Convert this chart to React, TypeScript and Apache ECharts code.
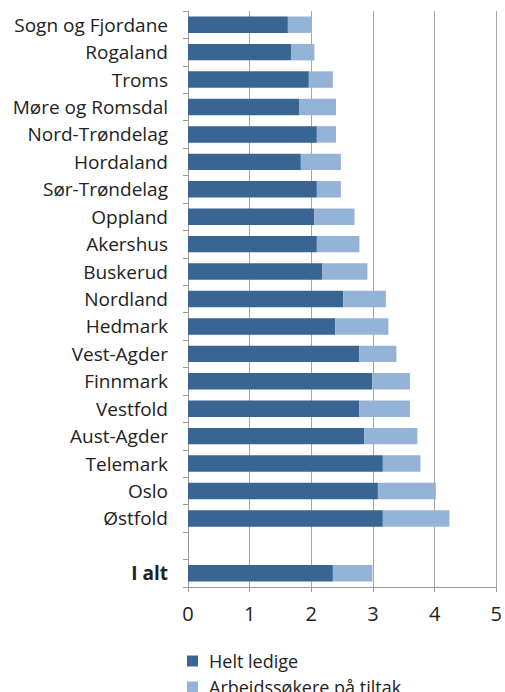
import React, { useEffect, useRef } from "react";
import * as echarts from "echarts";

const categories = [
  "Sogn og Fjordane", "Rogaland", "Troms", "Møre og Romsdal", "Nord-Trøndelag",
  "Hordaland", "Sør-Trøndelag", "Oppland", "Akershus", "Buskerud", "Nordland",
  "Hedmark", "Vest-Agder", "Finnmark", "Vestfold", "Aust-Agder", "Telemark",
  "Oslo", "Østfold", "", "I alt",
];
const heltLedige = [
  1.62, 1.67, 1.96, 1.80, 2.09, 1.83, 2.09, 2.05, 2.09, 2.18, 2.52,
  2.39, 2.78, 2.99, 2.78, 2.86, 3.16, 3.08, 3.16, null, 2.35,
];
const paaTiltak = [
  0.39, 0.38, 0.39, 0.60, 0.31, 0.65, 0.39, 0.65, 0.69, 0.73, 0.69,
  0.86, 0.60, 0.61, 0.82, 0.86, 0.61, 0.94, 1.08, null, 0.64,
];
const xTicks = [0, 1, 2, 3, 4, 5];
const seriesNames = ["Helt ledige", "Arbeidssøkere på tiltak"];

const FONT = "'Open Sans', 'Noto Sans', sans-serif";

export default function App() {
  const ref = useRef<HTMLDivElement>(null);
  useEffect(() => {
    document.body.style.margin = "0";
    if (!ref.current) return;
    const chart = echarts.init(ref.current, null, { renderer: "svg" });
    const legendText = { fontSize: 18, color: "#222", fontFamily: FONT, padding: [0, 0, 0, 6] };
    chart.setOption({
      animation: false,
      textStyle: { fontFamily: FONT },
      grid: { left: 188, right: 6, top: 11, bottom: 105, containLabel: false },
      legend: [
        {
          left: 182,
          top: 647,
          itemWidth: 11,
          itemHeight: 11,
          icon: "rect",
          textStyle: legendText,
          data: [seriesNames[0]],
        },
        {
          left: 182,
          top: 673,
          itemWidth: 11,
          itemHeight: 11,
          icon: "rect",
          textStyle: legendText,
          data: [seriesNames[1]],
        },
      ],
      xAxis: {
        type: "value",
        min: xTicks[0],
        max: xTicks[xTicks.length - 1],
        interval: 1,
        axisLine: { show: true, lineStyle: { color: "#999" } },
        axisTick: { show: true, length: 5, lineStyle: { color: "#999" } },
        splitLine: { show: true, lineStyle: { color: "#a6a6a6" } },
        axisLabel: { fontSize: 20, color: "#222", margin: 16, fontFamily: FONT },
      },
      yAxis: {
        type: "category",
        inverse: true,
        data: categories,
        axisLine: { show: true, lineStyle: { color: "#999" } },
        axisTick: { show: true, length: 5, lineStyle: { color: "#999" } },
        axisLabel: {
          fontSize: 19,
          color: "#222",
          margin: 20,
          fontFamily: FONT,
          formatter: (v: string) => (v === "I alt" ? "{b|I alt}" : v),
          rich: { b: { fontWeight: "bold", fontSize: 19, color: "#222", fontFamily: FONT } },
        },
      },
      series: [
        {
          name: seriesNames[0],
          type: "bar",
          stack: "total",
          barCategoryGap: "40%",
          itemStyle: { color: "#386592" },
          data: heltLedige.map((v) => (v === null ? "-" : v)),
        },
        {
          name: seriesNames[1],
          type: "bar",
          stack: "total",
          barCategoryGap: "40%",
          itemStyle: { color: "#95b3d7" },
          data: paaTiltak.map((v) => (v === null ? "-" : v)),
        },
      ],
    });
    return () => chart.dispose();
  }, []);
  return <div ref={ref} style={{ width: 505, height: 692 }} />;
}
